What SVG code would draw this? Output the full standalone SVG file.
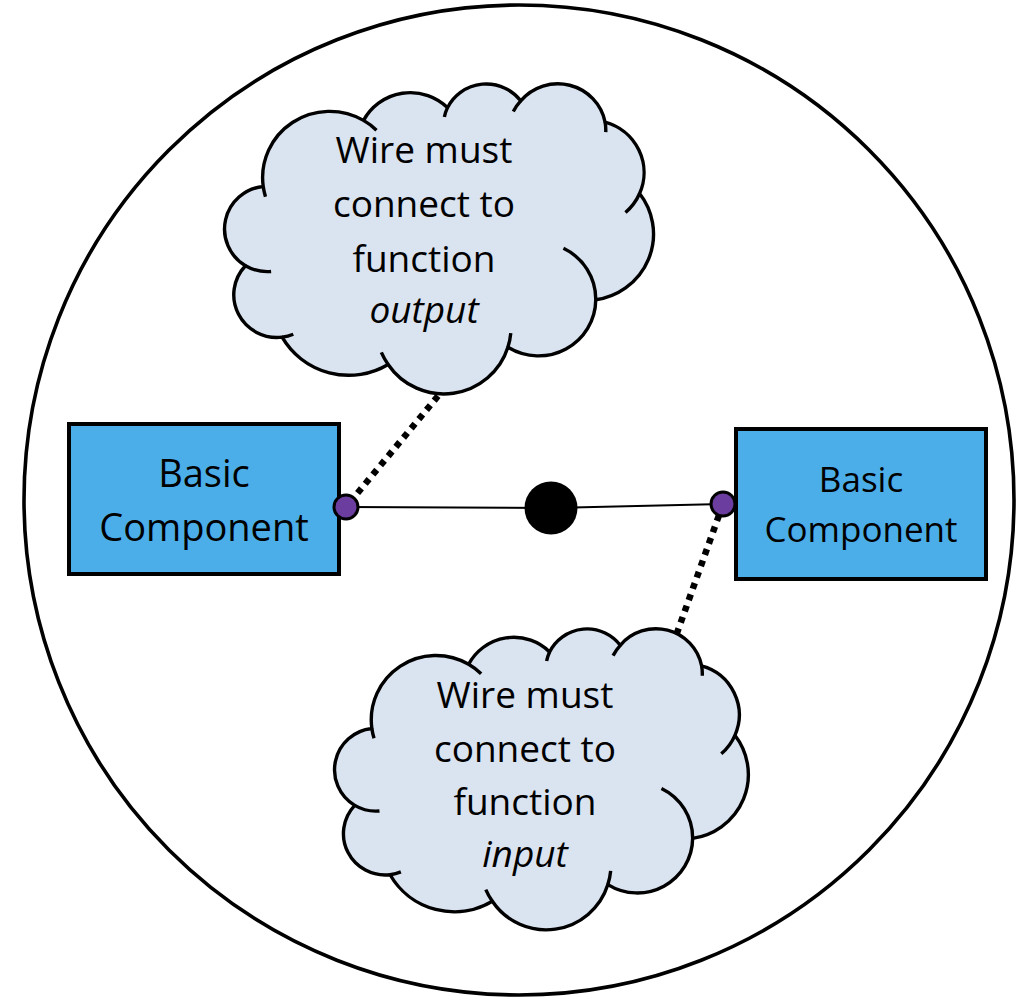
<svg xmlns="http://www.w3.org/2000/svg" width="1036" height="1008" viewBox="0 0 1036 1008">
<style>
  .lbl { font-family: "Open Sans", "Liberation Sans", sans-serif; fill: #000; text-anchor: middle; }
  .box { fill: #4BAEE8; stroke: #000; stroke-width: 4; }
  .cloud { fill: #DAE3F0; stroke: #000; stroke-width: 3.4; stroke-linejoin: round; }
  .cloud-inner { fill: none; stroke: #000; stroke-width: 3.4; }
  .port { fill: #6B3D9E; stroke: #000; stroke-width: 3; }
  .wire { fill: none; stroke: #000; stroke-width: 2; }
  .dotted { fill: none; stroke: #000; stroke-width: 6.5; stroke-dasharray: 6 6; }
</style>
<defs>
  <path id="cloudOutline" vector-effect="non-scaling-stroke" d="M3900,14370 A6753,9190 0 0 1 14000,5192 A5333,7267 0 0 1 22452,3424 A4365,5945 0 0 1 29829,2473 A4857,6595 0 0 1 38324,5426 A5333,7273 0 0 1 41798,15354 A6775,9220 0 0 1 37384,30098 A5785,7867 0 0 1 28536,36709 A6752,9215 0 0 1 16478,39090 A7720,10543 0 0 1 5803,35301 A4360,5918 0 0 1 2111,25379 A4345,5945 0 0 1 3900,14370 Z"/>
  <path id="cloudInner" vector-effect="non-scaling-stroke" d="M4693,26177 A4345,5945 0 0 1 2111,25379 M6928,34899 A4360,5918 0 0 1 5803,35301 M16478,39090 A6752,9215 0 0 1 15793,37420 M28827,34751 A6752,9215 0 0 1 28536,36709 M34129,22954 A5785,7867 0 0 1 37384,30098 M41798,15354 A5333,7273 0 0 1 40375,17988 M38324,5426 A4857,6595 0 0 1 38390,6831 M29078,3952 A4857,6595 0 0 1 29829,2473 M22141,4720 A4365,5945 0 0 1 22452,3424 M14000,5192 A6753,9190 0 0 1 15306,6553 M4127,15789 A6753,9190 0 0 1 3900,14370"/>
</defs>

<g id="boundary">
  <circle cx="519" cy="500" r="495" fill="#fff" stroke="#000" stroke-width="3.6"/>
</g>

<g id="connectors">
  <path class="dotted" d="M438,396 L346,507"/>
  <path class="dotted" d="M723,504 L677,633"/>
  <path class="wire" d="M346,507 L551,508 L723,504"/>
</g>

<g id="cloud-output">
  <g transform="translate(224.5,83) scale(0.009931,0.0072)">
    <use href="#cloudOutline" class="cloud"/>
    <use href="#cloudInner" class="cloud-inner"/>
  </g>
  <text class="lbl" font-size="37" x="424" y="163">Wire must</text>
  <text class="lbl" font-size="37" x="424" y="217">connect to</text>
  <text class="lbl" font-size="37" x="424" y="272">function</text>
  <text class="lbl" font-size="37" x="424" y="323" font-style="italic">output</text>
</g>

<g id="cloud-input">
  <g transform="translate(334.5,628) scale(0.00958,0.00699)">
    <use href="#cloudOutline" class="cloud"/>
    <use href="#cloudInner" class="cloud-inner"/>
  </g>
  <text class="lbl" font-size="37" x="525" y="708">Wire must</text>
  <text class="lbl" font-size="37" x="525" y="762">connect to</text>
  <text class="lbl" font-size="37" x="525" y="815">function</text>
  <text class="lbl" font-size="37" x="525" y="867" font-style="italic">input</text>
</g>

<g id="component-left">
  <rect class="box" x="69" y="424" width="270" height="150"/>
  <text class="lbl" font-size="38" x="204" y="487">Basic</text>
  <text class="lbl" font-size="38" x="204" y="541">Component</text>
</g>

<g id="component-right">
  <rect class="box" x="736" y="429" width="250" height="150"/>
  <text class="lbl" font-size="35" x="861" y="492">Basic</text>
  <text class="lbl" font-size="35" x="861" y="542">Component</text>
</g>

<g id="port-left">
  <circle class="port" cx="346" cy="507" r="12"/>
</g>
<g id="port-right">
  <circle class="port" cx="723" cy="504" r="12"/>
</g>
<g id="junction">
  <circle cx="551" cy="508" r="26.5" fill="#000"/>
</g>
</svg>
